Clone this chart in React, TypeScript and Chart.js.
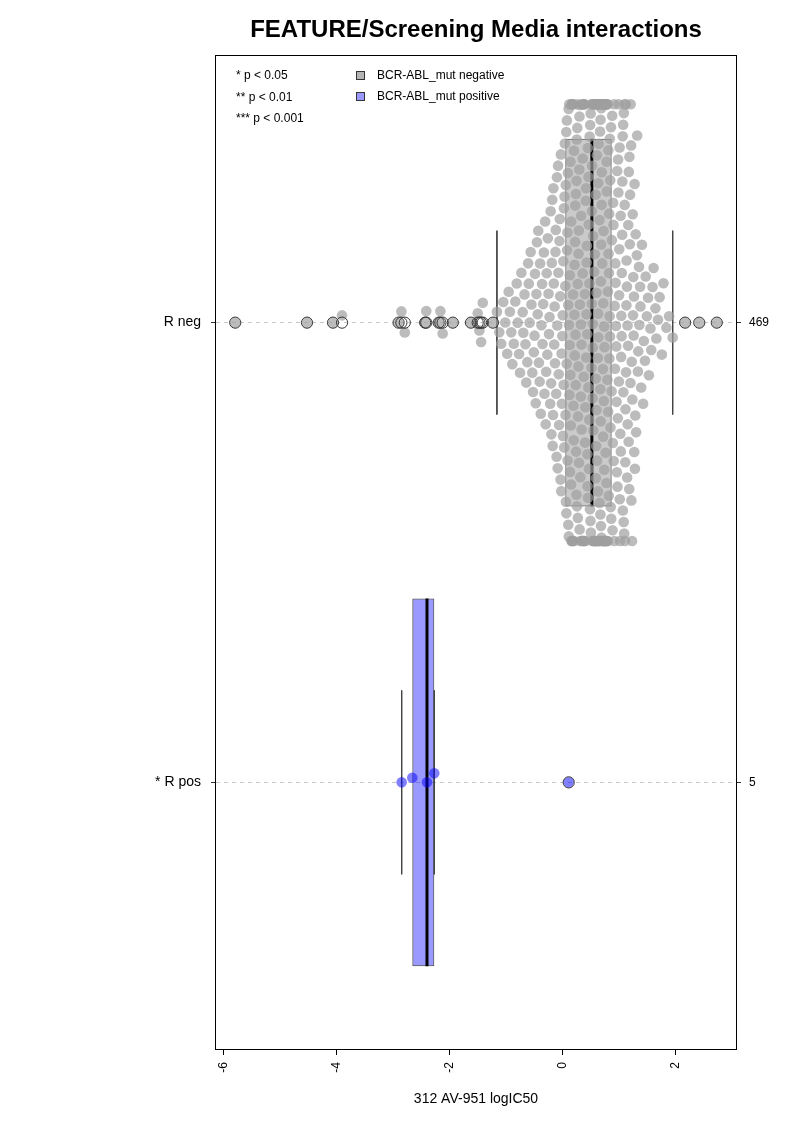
import { useEffect, useRef } from 'react';
import { Chart, registerables } from 'chart.js';

Chart.register(...registerables);

const FONT = "'Liberation Sans', Arial, Helvetica, sans-serif";

const chartTitle = 'FEATURE/Screening Media interactions';
const xAxisTitle = '312 AV-951 logIC50';
const groupLabels = ['R neg', '* R pos'];
const groupPositions = [1, 2];
const xTickValues = [-6, -4, -2, 0, 2];
const significanceKey = ['* p < 0.05', '** p < 0.01', '*** p < 0.001'];
const seriesKey = ['BCR-ABL_mut negative', 'BCR-ABL_mut positive'];

// logIC50 values, BCR-ABL_mut negative group (split by region of the distribution)
const negFarLow = [
  -5.79, -4.52, -4.06, -3.9, -2.9, -2.85, -2.79, -2.43, -2.41, -2.19, -2.16, -2.12,
  -1.94, -1.62, -1.5, -1.47, -1.44, -1.41, -1.23,
];
const negLowerTail = [
  -1.16, -1.118, -1.084, -1.047, -1.012,
  -0.978, -0.952, -0.931, -0.906,
  -0.887, -0.861, -0.834, -0.809,
  -0.792, -0.768, -0.751, -0.727, -0.704,
  -0.693, -0.672, -0.655, -0.641, -0.622, -0.608,
  -0.596, -0.581, -0.563, -0.549, -0.534, -0.521, -0.507,
  -0.494, -0.486, -0.473, -0.461, -0.452, -0.438, -0.429, -0.417, -0.404,
  -0.396, -0.384, -0.372, -0.361, -0.353, -0.341, -0.329, -0.318, -0.306,
  -0.297, -0.288, -0.279, -0.268, -0.259, -0.247, -0.238, -0.229, -0.217, -0.209, -0.201,
  -0.196, -0.188, -0.181, -0.174, -0.167, -0.161, -0.153, -0.146, -0.139, -0.132, -0.124, -0.118, -0.111, -0.104,
  -0.097, -0.091, -0.085, -0.078, -0.072, -0.066, -0.059, -0.053, -0.047, -0.041, -0.034, -0.028, -0.022, -0.016, -0.009, -0.003,
  0.004, 0.009, 0.015, 0.021, 0.026, 0.031, 0.036, 0.042,
];
const negLowerMid = [
  0.05, 0.053, 0.058, 0.061, 0.067, 0.069, 0.074, 0.078, 0.081, 0.087, 0.09, 0.095,
  0.101, 0.103, 0.109, 0.112, 0.115, 0.12, 0.122, 0.128, 0.131, 0.134, 0.14, 0.142, 0.146,
  0.152, 0.154, 0.158, 0.164, 0.166, 0.17, 0.176, 0.178, 0.183, 0.188, 0.19, 0.195,
  0.199, 0.204, 0.206, 0.212, 0.214, 0.218, 0.224, 0.226, 0.23, 0.235, 0.238, 0.241, 0.247,
  0.249, 0.254, 0.257, 0.262, 0.264, 0.27, 0.272, 0.276, 0.282, 0.284, 0.289, 0.293, 0.297,
  0.301, 0.303, 0.309, 0.311, 0.317, 0.319, 0.325, 0.327, 0.331, 0.337, 0.339, 0.345, 0.347,
  0.351, 0.357, 0.359, 0.363, 0.369, 0.371, 0.377, 0.379, 0.385, 0.387, 0.391, 0.397,
  0.4, 0.405, 0.407, 0.413, 0.416, 0.42, 0.426, 0.428, 0.432, 0.438, 0.441, 0.444, 0.449,
  0.452, 0.457, 0.46, 0.466, 0.468, 0.473, 0.477, 0.481, 0.486, 0.49, 0.495,
  0.499, 0.503, 0.509, 0.512, 0.517, 0.52,
];
const negUpperMid = [
  0.523, 0.527, 0.529, 0.533, 0.536, 0.538, 0.542, 0.545, 0.547, 0.551, 0.554, 0.556, 0.56,
  0.563, 0.565, 0.569, 0.572, 0.574, 0.578, 0.581, 0.583, 0.587, 0.59, 0.592, 0.596,
  0.599, 0.601, 0.604, 0.607, 0.609, 0.612, 0.615, 0.617, 0.62, 0.623, 0.625, 0.628, 0.631,
  0.633, 0.636, 0.639, 0.641, 0.644, 0.647, 0.649, 0.652, 0.655, 0.657, 0.66, 0.663, 0.665,
  0.668, 0.671, 0.673, 0.676, 0.679, 0.681, 0.684, 0.687,
  0.69, 0.692, 0.695, 0.698, 0.7, 0.703, 0.706, 0.708, 0.711, 0.714, 0.716, 0.719, 0.722,
  0.724, 0.727, 0.73, 0.732, 0.735, 0.738, 0.74, 0.743, 0.746, 0.748, 0.751, 0.754, 0.756,
  0.759, 0.762, 0.764, 0.767, 0.77, 0.772, 0.775, 0.778,
  0.781, 0.784, 0.788, 0.791, 0.795, 0.798, 0.802, 0.805, 0.809, 0.812, 0.816, 0.819, 0.823,
  0.826, 0.83, 0.834, 0.837, 0.841, 0.845, 0.849, 0.853, 0.858, 0.863, 0.87,
];
const negUpperTail = [
  0.874, 0.88, 0.885, 0.891, 0.896, 0.902, 0.907, 0.913, 0.918, 0.924, 0.929, 0.935,
  0.94, 0.946, 0.951, 0.957, 0.962, 0.968, 0.973, 0.979, 0.984, 0.989, 0.993, 0.998,
  1.002, 1.005, 1.011, 1.014, 1.02, 1.023, 1.029, 1.032, 1.038, 1.041, 1.047, 1.05, 1.056, 1.059,
  1.065, 1.068, 1.074, 1.077, 1.083, 1.086, 1.092, 1.097,
  1.101, 1.105, 1.111, 1.115, 1.121, 1.124, 1.131, 1.134, 1.141, 1.144, 1.151, 1.154, 1.161, 1.164,
  1.171, 1.174, 1.181, 1.184, 1.191, 1.196,
  1.203, 1.207, 1.214, 1.219, 1.225, 1.231, 1.236, 1.242, 1.248, 1.253, 1.259, 1.265, 1.27, 1.276,
  1.282, 1.288, 1.295,
  1.303, 1.316, 1.322, 1.335, 1.341, 1.354, 1.36, 1.373, 1.379, 1.392,
  1.406, 1.427, 1.439, 1.46, 1.472, 1.493,
  1.514, 1.529, 1.556, 1.57, 1.593,
  1.612, 1.644, 1.661, 1.69,
  1.719, 1.758, 1.787,
  1.838, 1.886, 1.95,
];
const negFarHigh = [2.17, 2.42, 2.73];

// logIC50 values, BCR-ABL_mut positive group
const posValues = [-2.845, -2.657, -2.397, -2.268, 0.11];

const negValues = [
  ...negFarLow, ...negLowerTail, ...negLowerMid, ...negUpperMid, ...negUpperTail, ...negFarHigh,
];
const groups = [negValues, posValues];

const pointColors = ['rgba(160,160,160,0.7)', 'rgba(0,0,255,0.5)'];
const boxFills = ['rgba(150,150,150,0.5)', 'rgba(0,0,255,0.4)'];
const keyFills = ['#b4b4b4', '#9999ff'];

const BOX_WIDTH = 0.8; // in group units
const STAPLE_HALF = 0.2; // in group units
const CORRAL_HALF = 0.475; // swarm gutter, in group units
const SWARM_SPACING = 11.6; // px between swarm point centres
const POINT_RADIUS = 5.3;

// Tukey five-number summary plus whiskers/outliers (1.5 IQR rule)
function boxStats(values: number[]) {
  const s = [...values].sort((a, b) => a - b);
  const n = s.length;
  const n4 = Math.floor((n + 3) / 2) / 2;
  const at = (p: number) => 0.5 * (s[Math.floor(p) - 1] + s[Math.ceil(p) - 1]);
  const q1 = at(n4);
  const med = at((n + 1) / 2);
  const q3 = at(n + 1 - n4);
  const iqr = q3 - q1;
  const inside = s.filter((v) => v >= q1 - 1.5 * iqr && v <= q3 + 1.5 * iqr);
  return {
    q1, med, q3,
    lo: inside[0],
    hi: inside[inside.length - 1],
    outliers: s.filter((v) => v < q1 - 1.5 * iqr || v > q3 + 1.5 * iqr),
  };
}

// Swarm layout (ascending priority): each point takes the free offset closest to the axis.
// Returns offsets in px, positive = upwards on screen.
function swarmOffsets(values: number[], pxPerUnit: number, spacing: number): number[] {
  const order = values.map((_, i) => i).sort((a, b) => values[a] - values[b]);
  const xs: number[] = [];
  const ys: number[] = [];
  const out = new Array(values.length).fill(0);
  for (const idx of order) {
    const xi = (values[idx] * pxPerUnit) / spacing;
    const px: number[] = [];
    const py: number[] = [];
    for (let j = 0; j < xs.length; j++) {
      if (Math.abs(xi - xs[j]) < 1) {
        px.push(xs[j]);
        py.push(ys[j]);
      }
    }
    let y = 0;
    if (px.length) {
      const cand = [0];
      for (let k = 0; k < px.length; k++) cand.push(py[k] + Math.sqrt(1 - (xi - px[k]) ** 2));
      for (let k = 0; k < px.length; k++) cand.push(py[k] - Math.sqrt(1 - (xi - px[k]) ** 2));
      let best = Infinity;
      for (const c of cand) {
        if (Math.abs(c) >= Math.abs(best)) continue;
        let bad = false;
        for (let k = 0; k < px.length; k++) {
          if ((xi - px[k]) ** 2 + (c - py[k]) ** 2 < 0.999) {
            bad = true;
            break;
          }
        }
        if (!bad) best = c;
      }
      y = best;
    }
    xs.push(xi);
    ys.push(y);
    out[idx] = y * spacing;
  }
  return out;
}

const frameAndKey = {
  id: 'frameAndKey',
  afterDraw(chart: any) {
    const { ctx, chartArea } = chart;
    const { left, top, right, bottom } = chartArea;
    ctx.save();
    ctx.strokeStyle = '#000';
    ctx.lineWidth = 1;
    ctx.strokeRect(left - 0.5, top - 0.5, right - left + 1, bottom - top + 1);

    ctx.font = `12px ${FONT}`;
    ctx.textBaseline = 'middle';
    ctx.textAlign = 'left';
    ctx.fillStyle = '#000';
    significanceKey.forEach((t, i) => ctx.fillText(t, left + 20, top + 20 + i * 21.3));
    seriesKey.forEach((t, i) => {
      const y = Math.round(top + 20 + i * 21.3);
      ctx.fillStyle = keyFills[i];
      ctx.fillRect(left + 141, y - 4, 7, 7);
      ctx.strokeStyle = '#333';
      ctx.strokeRect(left + 140.5, y - 4.5, 8, 8);
      ctx.fillStyle = '#000';
      ctx.fillText(t, left + 161, y);
    });
    ctx.restore();
  },
};

export default function App() {
  const canvasRef = useRef<HTMLCanvasElement>(null);

  useEffect(() => {
    if (!canvasRef.current) return;
    const stats = groups.map(boxStats);

    const datasets: any[] = [];
    datasets.push({
      type: 'bar',
      indexAxis: 'y',
      data: stats.map((s, i) => ({ y: groupPositions[i], x: [s.q1, s.q3] })),
      backgroundColor: boxFills,
      borderColor: '#4d4d4d',
      borderWidth: 1,
      borderSkipped: false,
      categoryPercentage: BOX_WIDTH,
      barPercentage: 1,
      order: 10,
    });
    const segment = (x: number, y: number, half: number, color: string, width: number) => ({
      type: 'scatter',
      showLine: true,
      data: [
        { x, y: y - half },
        { x, y: y + half },
      ],
      borderColor: color,
      borderWidth: width,
      pointRadius: 0,
      order: 8,
    });
    stats.forEach((s, i) => {
      datasets.push(segment(s.med, groupPositions[i], BOX_WIDTH / 2, '#000', 3));
      datasets.push(segment(s.lo, groupPositions[i], STAPLE_HALF, '#444', 1));
      datasets.push(segment(s.hi, groupPositions[i], STAPLE_HALF, '#444', 1));
    });
    const swarmIndex: number[] = [];
    groups.forEach((_, i) => {
      swarmIndex.push(datasets.length);
      datasets.push({
        type: 'scatter',
        data: [],
        pointRadius: POINT_RADIUS,
        pointBorderWidth: 0,
        pointBackgroundColor: pointColors[i],
        order: 4,
      });
    });
    stats.forEach((s, i) => {
      datasets.push({
        type: 'scatter',
        data: s.outliers.map((v) => ({ x: v, y: groupPositions[i] })),
        pointRadius: 5.6,
        pointBorderWidth: 1,
        pointBorderColor: '#333',
        pointBackgroundColor: 'rgba(0,0,0,0)',
        order: 1,
      });
    });

    const yTicks = (scale: any) => {
      scale.ticks = groupPositions.map((v) => ({ value: v }));
    };

    const chart = new Chart(canvasRef.current, {
      type: 'scatter',
      data: { datasets },
      plugins: [frameAndKey],
      options: {
        responsive: false,
        animation: false,
        events: [],
        layout: { padding: 0 },
        plugins: {
          legend: { display: false },
          tooltip: { enabled: false },
          title: {
            display: true,
            text: chartTitle,
            fullSize: false,
            color: '#000',
            font: { family: FONT, size: 24, weight: 'bold' },
            padding: { top: 16, bottom: 11.2 },
          },
        },
        scales: {
          x: {
            type: 'linear',
            position: 'bottom',
            min: -6.13,
            max: 3.07,
            offset: false,
            afterBuildTicks: (scale: any) => {
              scale.ticks = xTickValues.map((v) => ({ value: v }));
            },
            afterFit: (scale: any) => {
              scale.height = 73;
            },
            grid: { drawOnChartArea: false, offset: false, tickLength: 6, tickColor: '#000' },
            border: { display: false },
            ticks: {
              color: '#000',
              font: { family: FONT, size: 12 },
              padding: 7,
              minRotation: 90,
              maxRotation: 90,
              autoSkip: false,
              callback: (v: any) => String(v),
            },
            title: {
              display: true,
              text: xAxisTitle,
              color: '#000',
              font: { family: FONT, size: 14 },
              padding: { top: 0, bottom: 14 },
            },
          },
          y: {
            type: 'linear',
            position: 'left',
            min: 0.42,
            max: 2.58,
            reverse: true,
            offset: false,
            afterBuildTicks: yTicks,
            afterFit: (scale: any) => {
              scale.width = 216;
            },
            grid: {
              offset: false,
              color: '#c8c8c8',
              tickColor: '#333',
              tickLength: 5,
              tickBorderDash: [],
            },
            border: { display: false, dash: [4, 4] },
            ticks: {
              color: '#000',
              font: { family: FONT, size: 14 },
              padding: 10,
              callback: (v: any) => groupLabels[groupPositions.indexOf(v)] ?? '',
            },
          },
          y2: {
            type: 'linear',
            position: 'right',
            min: 0.42,
            max: 2.58,
            reverse: true,
            offset: false,
            afterBuildTicks: yTicks,
            afterFit: (scale: any) => {
              scale.width = 57;
            },
            grid: { drawOnChartArea: false, offset: false, tickColor: '#333', tickLength: 5 },
            border: { display: false },
            ticks: {
              color: '#000',
              font: { family: FONT, size: 12 },
              padding: 8,
              callback: (v: any) => {
                const i = groupPositions.indexOf(v);
                return i >= 0 ? String(groups[i].length) : '';
              },
            },
          },
        },
      } as any,
    });

    // second pass: lay out the swarms in screen space using the fitted scales
    const xs = chart.scales.x;
    const ys = chart.scales.y;
    const pxPerX = Math.abs(xs.getPixelForValue(1) - xs.getPixelForValue(0));
    const pxPerY = Math.abs(ys.getPixelForValue(2) - ys.getPixelForValue(1));
    const limit = CORRAL_HALF * pxPerY;
    groups.forEach((g, i) => {
      const off = swarmOffsets(g, pxPerX, SWARM_SPACING);
      chart.data.datasets[swarmIndex[i]].data = g.map((v, k) => ({
        x: v,
        y: groupPositions[i] - Math.max(-limit, Math.min(limit, off[k])) / pxPerY,
      })) as any;
    });
    chart.update('none');

    return () => chart.destroy();
  }, []);

  return (
    <div style={{ position: 'absolute', left: 0, top: 0, width: 793, height: 1122, background: '#fff' }}>
      <canvas ref={canvasRef} width={793} height={1122} />
    </div>
  );
}
